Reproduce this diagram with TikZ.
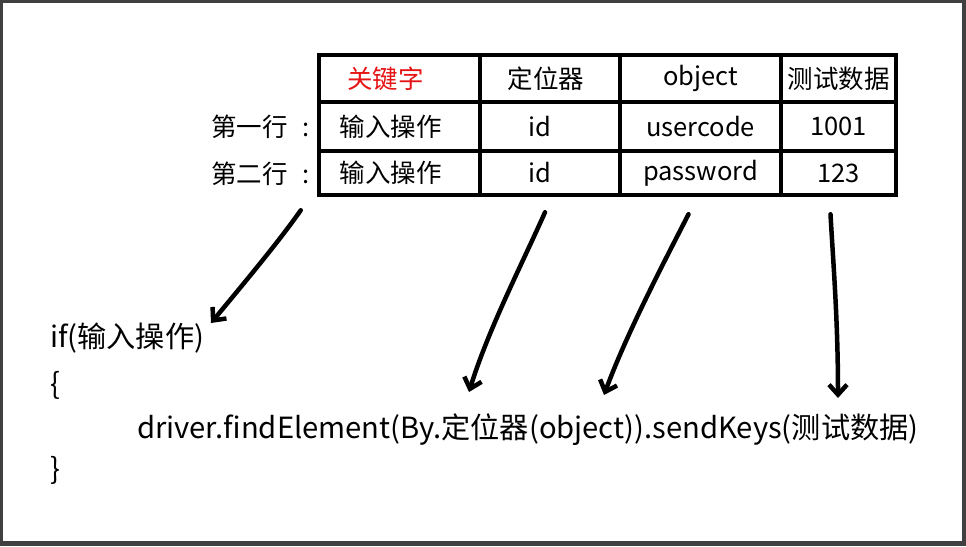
\documentclass[tikz,border=0pt]{standalone}
\usepackage{fontspec}
\setmainfont{Noto Sans CJK SC}
\usepackage{xcolor}
\usetikzlibrary{arrows.meta,positioning,calc}
\definecolor{frameGray}{RGB}{64,64,64}
\definecolor{keyRed}{RGB}{230,20,20}
\tikzset{
  cell/.style={draw, line width=4.5pt, inner sep=0pt, align=center, font=\fontsize{25.5}{27}\selectfont},
  rowlabel/.style={anchor=east, inner sep=0pt, font=\fontsize{25.5}{27}\selectfont},
  code/.style={anchor=west, inner sep=0pt, font=\fontsize{29.2}{31}\selectfont},
  arrow/.style={-{Straight Barb[length=10pt, width=18pt]}, line width=4.5pt, line cap=round}
}
\begin{document}
\begin{tikzpicture}[x=1pt, y=-1pt]
  % frame
  \fill[frameGray] (0,0) rectangle (966,546);
  \fill[white] (3,3) rectangle (962,541);

  % header row
  \node[cell, minimum width=161pt, minimum height=47pt, text=keyRed] (h1) at (399.5,78.5) {\hspace*{-28pt}关键字};
  \node[cell, minimum width=140pt, minimum height=47pt] (h2) at (550,78.5) {\hspace*{-8pt}定位器};
  \node[cell, minimum width=161pt, minimum height=47pt] (h3) at (700.5,78.5) {object};
  \node[cell, minimum width=115pt, minimum height=47pt] (h4) at (838.5,78.5) {测试数据};

  % first row
  \node[cell, minimum width=161pt, minimum height=49pt] (a1) at (399.5,126.5) {\hspace*{-18pt}输入操作};
  \node[cell, minimum width=140pt, minimum height=49pt] (a2) at (550,126.5) {\hspace*{-20pt}id};
  \node[cell, minimum width=161pt, minimum height=49pt] (a3) at (700.5,126.5) {usercode};
  \node[cell, minimum width=115pt, minimum height=49pt] (a4) at (838.5,126.5) {1001};

  % second row
  \node[cell, minimum width=161pt, minimum height=44pt] (b1) at (399.5,173) {\hspace*{-18pt}输入操作};
  \node[cell, minimum width=140pt, minimum height=44pt] (b2) at (550,173) {\hspace*{-20pt}id};
  \node[cell, minimum width=161pt, minimum height=44pt] (b3) at (700.5,173) {\raisebox{3pt}{password}};
  \node[cell, minimum width=115pt, minimum height=44pt] (b4) at (838.5,173) {123};

  \node[rowlabel] (r1) at (310,127) {第一行\hspace{15pt}:};
  \node[rowlabel] (r2) at (310,174) {第二行\hspace{15pt}:};

  % code
  \node[code] (ifline) at (50,338) {if(输入操作)};
  \node[code] (open) at (50,385) {\{};
  \node[code] (call) at (137,430) {driver.findElement(By.定位器(object)).sendKeys(测试数据)};
  \node[code] (close) at (50,470) {\}};

  % arrows
  \coordinate (k1) at ($(b1.south west)+(-16,13)$);
  \coordinate (k2) at ($(b2.south)+(-5,15)$);
  \coordinate (k3) at ($(b3.south)+(-12,17)$);
  \coordinate (k4) at ($(b4.south)+(-8,17)$);
  \coordinate (t1) at (211,323);
  \coordinate (t2) at (469,392);
  \coordinate (t3) at (604,395);
  \coordinate (t4) at (838,398);

  \draw[arrow] (k1) .. controls (280,240) and (245,282) .. (t1);
  \draw[arrow] (k2) .. controls (523,262) and (488,330) .. (t2);
  \draw[arrow] (k3) .. controls (663,264) and (626,335) .. (t3);
  \draw[arrow] (k4) .. controls (833,260) and (838,320) .. (t4);
\end{tikzpicture}
\end{document}
